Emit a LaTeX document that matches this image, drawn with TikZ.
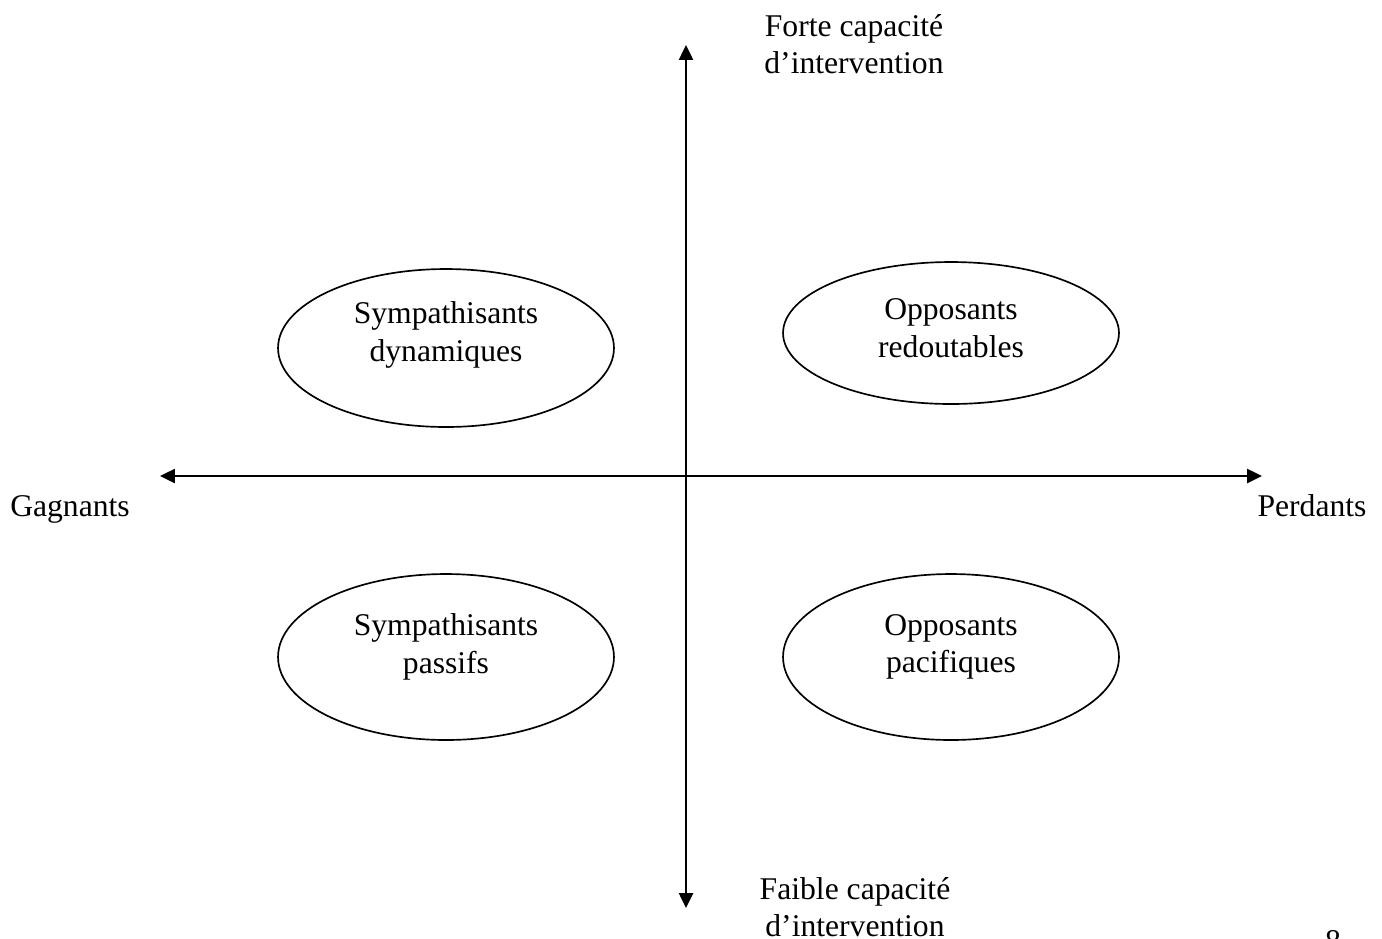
\documentclass[tikz,border=0pt]{standalone}
\usepackage{fontspec}
\setmainfont{Liberation Serif}
\usetikzlibrary{shapes.geometric, arrows.meta}

\begin{document}
\begin{tikzpicture}[
    x=0.02cm, y=-0.02cm,
    every node/.style={font=\fontsize{18}{21.3}\selectfont},
    oval/.style={ellipse, draw, line width=0.95pt, minimum width=6.72cm, inner sep=0pt},
    lbl/.style={align=center},
    axis/.style={line width=1.2pt, {Triangle[length=8.5pt, width=8pt]}-{Triangle[length=8.5pt, width=8pt]}},
    ]
    \useasboundingbox (0,0) rectangle (1382,938);

    % axes
    \coordinate (haut) at (686,45);
    \coordinate (bas) at (686,908);
    \coordinate (gauche) at (160,476);
    \coordinate (droite) at (1262,476);
    \draw[axis] (gauche) -- (droite);
    \draw[axis] (bas) -- (haut);

    % ellipses
    \node[oval, minimum height=3.16cm] (sd) at (446,348) {};
    \node[oval, minimum height=2.84cm] (or) at (951,333) {};
    \node[oval, minimum height=3.32cm] (sp) at (446,657) {};
    \node[oval, minimum height=3.32cm] (op) at (951,657) {};

    \node[lbl] (sd-t) at (446,335) {Sympathisants\\dynamiques};
    \node[lbl] (or-t) at (951,328) {Opposants\\redoutables};
    \node[lbl] (sp-t) at (446,647) {Sympathisants\\passifs};
    \node[lbl] (op-t) at (951,647) {Opposants\\pacifiques};

    % labels of the axes
    \node[lbl] (forte) at (854,44) {Forte capacit\'e\\d'intervention};
    \node[lbl] (faible) at (855,907) {Faible capacit\'e\\d'intervention};
    \node[anchor=base] (gagn) at (70,516) {Gagnants};
    \node[anchor=base] (perd) at (1312,516) {Perdants};
    \node[anchor=base] (page) at (1333,951) {8};
\end{tikzpicture}
\end{document}
